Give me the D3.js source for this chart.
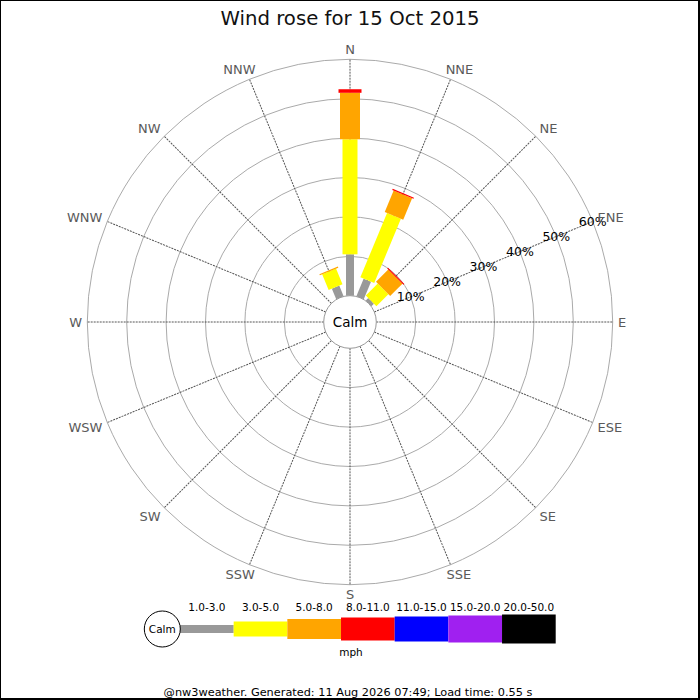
<!DOCTYPE html>
<html><head><meta charset="utf-8">
<script src="https://cdn.jsdelivr.net/npm/d3@7"></script>
<style>body{margin:0;background:#fff} svg{display:block;font-family:"DejaVu Sans",sans-serif}</style>
</head><body><svg id="chart" width="700" height="700"></svg>
<script>
// ---------------- data ----------------
const directions = ["N","NNE","NE","ENE","E","ESE","SE","SSE","S","SSW","SW","WSW","W","WNW","NW","NNW"];
const speedClasses = ["1.0-3.0","3.0-5.0","5.0-8.0","8.0-11.0","11.0-15.0","15.0-20.0","20.0-50.0"];
const classColors = ["#999999","#ffff00","#ffa500","#ff0000","#0000ff","#a020f0","#000000"];
// percentage of time per direction, one array per speed class (mph)
const speed1to3   = [10.5, 4.8, 0.9, 0, 0, 0, 0, 0, 0, 0, 0, 0, 0, 0, 0, 2.9];
const speed3to5   = [29.2, 17.7, 4.3, 0, 0, 0, 0, 0, 0, 0, 0, 0, 0, 0, 0, 4.3];
const speed5to8   = [11.8, 5.9, 4.4, 0, 0, 0, 0, 0, 0, 0, 0, 0, 0, 0, 0, 0.3];
const speed8to11  = [0.9, 0.3, 0.3, 0, 0, 0, 0, 0, 0, 0, 0, 0, 0, 0, 0, 0];
const speed11to15 = [0, 0, 0, 0, 0, 0, 0, 0, 0, 0, 0, 0, 0, 0, 0, 0];
const speed15to20 = [0, 0, 0, 0, 0, 0, 0, 0, 0, 0, 0, 0, 0, 0, 0, 0];
const speed20to50 = [0, 0, 0, 0, 0, 0, 0, 0, 0, 0, 0, 0, 0, 0, 0, 0];
const ringTicks = [10, 20, 30, 40, 50, 60];
const titleText = "Wind rose for 15 Oct 2015";
const unitText = "mph";
const calmText = "Calm";
const footerText = "@nw3weather. Generated: 11 Aug 2026 07:49; Load time: 0.55 s";

// ---------------- build ----------------
const series = [speed1to3, speed3to5, speed5to8, speed8to11, speed11to15, speed15to20, speed20to50];
const table = directions.map((d, i) => {
  const row = {dir: d, idx: i};
  speedClasses.forEach((c, k) => row[c] = series[k][i]);
  return row;
});
const stacked = d3.stack().keys(speedClasses)(table);

const svg = d3.select("#chart");
const cx = 350, cy = 322;
const r = d3.scaleLinear().domain([0, 60]).range([26.3, 262.7]);
const ang = d3.scaleLinear().domain([0, directions.length]).range([0, 360]);
const barWidth = d3.scaleOrdinal().domain(speedClasses).range([8, 15, 20, 23, 25, 27, 29]);
const color = d3.scaleOrdinal().domain(speedClasses).range(classColors);

// frame
svg.append("rect").attr("x", 0).attr("y", 0).attr("width", 699).attr("height", 699)
  .attr("fill", "none").attr("stroke", "#000").attr("stroke-width", 2);

// title
svg.append("text").attr("x", 350).attr("y", 25).attr("text-anchor", "middle")
  .attr("font-size", 19.7).attr("fill", "#111").text(titleText);

const g = svg.append("g").attr("transform", `translate(${cx},${cy})`);

// rings
g.selectAll("circle.ring").data(ringTicks).join("circle").attr("class", "ring")
  .attr("r", d => r(d)).attr("fill", "none").attr("stroke", "#aaaaaa").attr("stroke-width", 1);

// radial lines
g.selectAll("line.spoke").data(directions).join("line").attr("class", "spoke")
  .attr("transform", (d, i) => `rotate(${ang(i)})`)
  .attr("x1", 0).attr("x2", 0).attr("y1", -r(0)).attr("y2", -r(60))
  .attr("stroke", "#555").attr("stroke-width", 1).attr("stroke-dasharray", "2,1");

// bars
stacked.forEach(layer => {
  const key = layer.key;
  g.append("g").selectAll("rect").data(layer.filter(p => p[1] - p[0] > 0)).join("rect")
    .attr("transform", p => `rotate(${ang(p.data.idx)})`)
    .attr("x", -barWidth(key) / 2)
    .attr("width", barWidth(key))
    .attr("y", p => -r(p[1]))
    .attr("height", p => r(p[1]) - r(p[0]))
    .attr("fill", color(key));
});

// calm circle
g.append("circle").attr("r", r(0)).attr("fill", "#fff").attr("stroke", "#999").attr("stroke-width", 1);
g.append("text").attr("x", 0).attr("y", 5).attr("text-anchor", "middle")
  .attr("font-size", 13.5).attr("fill", "#000").text(calmText);

// ring labels along ENE
const labelAngle = ang(3) * Math.PI / 180;
g.selectAll("text.tick").data(ringTicks).join("text").attr("class", "tick")
  .attr("x", d => r(d) * Math.sin(labelAngle))
  .attr("y", d => -r(d) * Math.cos(labelAngle) + 4.5)
  .attr("text-anchor", "middle").attr("font-size", 12.5).attr("fill", "#000")
  .text(d => d + "%");

// direction labels
const R = 268, capH = 9.48;
function fx(t){ if (t <= 45) return 0.5 - t / 90; if (t <= 135) return 0; if (t <= 180) return (t - 135) / 90; if (t <= 225) return 0.5 + (t - 180) / 90; if (t <= 315) return 1; return 1 - (t - 315) / 90; }
function fy(t){ if (t <= 45 || t >= 315) return 0; if (t <= 135) return (t - 45) / 90; if (t <= 225) return 1; return 1 - (t - 225) / 90; }
g.selectAll("text.dir").data(directions).join("text").attr("class", "dir")
  .attr("font-size", 13).attr("fill", "#5a5a5a").text(d => d)
  .each(function(d, i){
    const t = ang(i), a = t * Math.PI / 180;
    const px = R * Math.sin(a), py = -R * Math.cos(a);
    const w = this.getComputedTextLength();
    d3.select(this).attr("x", px - w * fx(t)).attr("y", py + capH * fy(t));
  });

// legend
const lg = svg.append("g");
const lx = d3.scaleBand().domain(speedClasses).range([180, 555.7]);
const ly = 629;
lg.selectAll("rect").data(speedClasses).join("rect")
  .attr("x", d => lx(d)).attr("width", lx.bandwidth())
  .attr("y", d => ly - barWidth(d) / 2).attr("height", d => barWidth(d))
  .attr("fill", d => color(d));
lg.selectAll("text.lab").data(speedClasses).join("text").attr("class", "lab")
  .attr("x", d => lx(d) + lx.bandwidth() / 2).attr("y", 611)
  .attr("text-anchor", "middle").attr("font-size", 10.5).attr("fill", "#000").text(d => d);
lg.append("circle").attr("cx", 162.3).attr("cy", ly).attr("r", 18)
  .attr("fill", "#fff").attr("stroke", "#000").attr("stroke-width", 1);
lg.append("text").attr("x", 162.3).attr("y", ly + 4).attr("text-anchor", "middle")
  .attr("font-size", 10.5).attr("fill", "#000").text(calmText);
lg.append("text").attr("x", 351).attr("y", 656).attr("text-anchor", "middle")
  .attr("font-size", 10.5).attr("fill", "#000").text(unitText);

// footer
svg.append("text").attr("x", 348).attr("y", 696).attr("text-anchor", "middle")
  .attr("font-size", 11.3).attr("fill", "#000").text(footerText);
</script>
</body></html>
